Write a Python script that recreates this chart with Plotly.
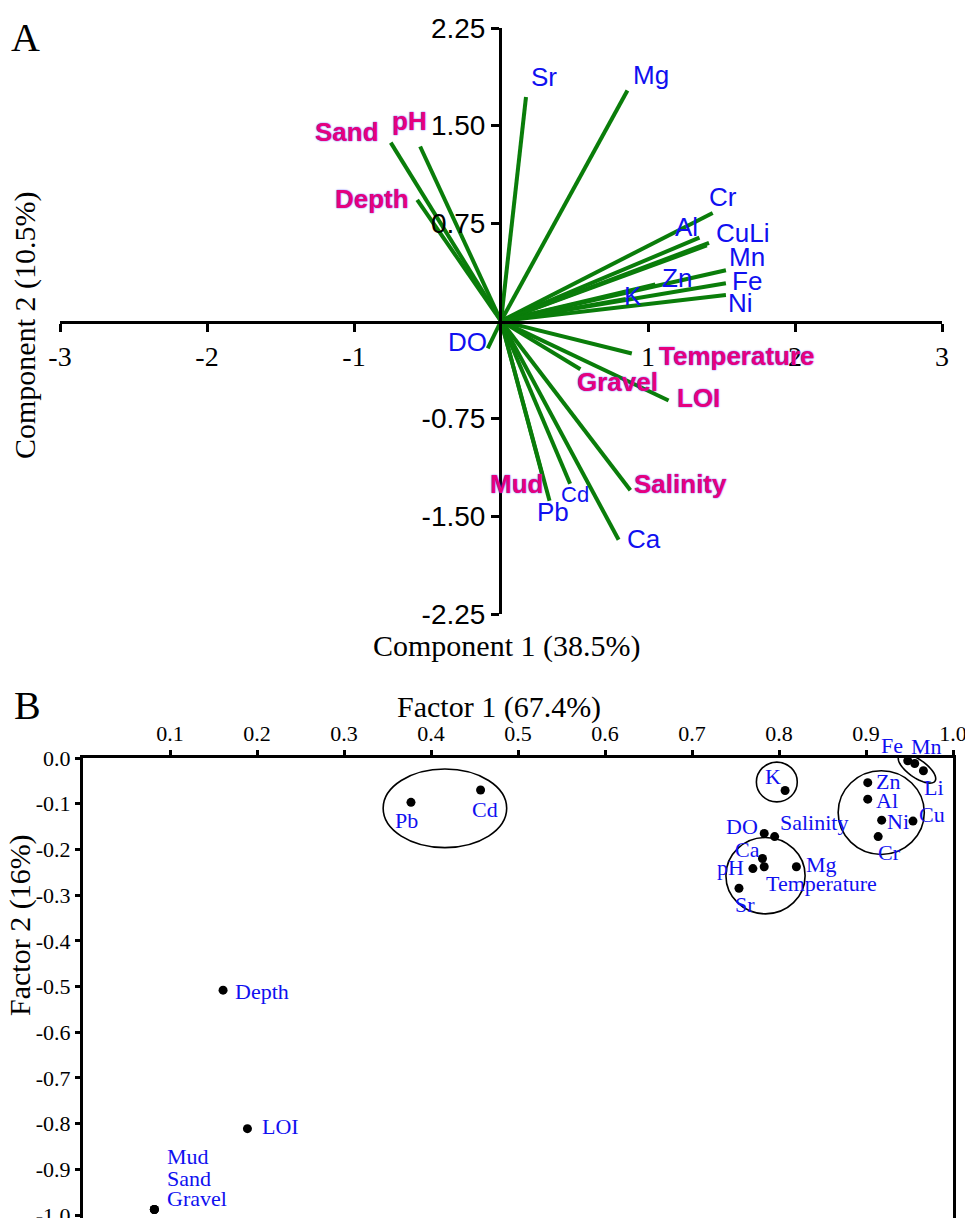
import numpy as np
import plotly.graph_objects as go

W, H = 965, 1218

# ---------------- Panel A data (PCA loadings) ----------------
pca_vars = ["Sand", "pH", "Depth", "Sr", "Mg", "Cr", "Al", "Cu", "Li", "Mn", "Fe", "Ni",
            "Zn", "K", "DO", "Temperature", "Gravel", "LOI", "Salinity", "Ca", "Cd", "Pb", "Mud"]
pc1 = [-0.75, -0.55, -0.57, 0.17, 0.86, 1.44, 1.35, 1.415, 1.40, 1.53, 1.53, 1.53,
       1.05, 0.85, -0.09, 0.89, 0.54, 1.14, 0.88, 0.80, 0.47, 0.33, 0.28]
pc2 = [1.37, 1.34, 0.93, 1.72, 1.77, 0.83, 0.64, 0.60, 0.58, 0.39, 0.29, 0.20,
       0.28, 0.17, -0.21, -0.25, -0.37, -0.61, -1.30, -1.68, -1.25, -1.38, -1.18]
pca_labels = {"Cu": "CuLi", "Li": ""}
env_vars = ["Sand", "pH", "Depth", "Temperature", "Gravel", "LOI", "Salinity", "Mud"]

a_xticks = [-3, -2, -1, 1, 2, 3]
a_yticks = [2.25, 1.50, 0.75, -0.75, -1.50, -2.25]
a_yticktext = ["2.25", "1.50", "0.75", "-0.75", "-1.50", "-2.25"]

# ---------------- Panel B data (factor loadings) ----------------
fa_vars = ["Fe", "Mn", "Li", "K", "Zn", "Al", "Ni", "Cu", "Cr", "DO", "Salinity", "Ca",
           "Temperature", "pH", "Mg", "Sr", "Pb", "Cd", "Depth", "LOI", "Mud", "Sand", "Gravel"]
f1 = [0.948, 0.956, 0.966, 0.807, 0.902, 0.902, 0.918, 0.954, 0.914, 0.783, 0.795, 0.781,
      0.783, 0.770, 0.820, 0.754, 0.377, 0.457, 0.161, 0.189, 0.082, 0.082, 0.082]
f2 = [-0.006, -0.012, -0.028, -0.071, -0.054, -0.090, -0.136, -0.138, -0.172, -0.165, -0.172, -0.220,
      -0.238, -0.242, -0.238, -0.285, -0.097, -0.070, -0.508, -0.811, -0.988, -0.988, -0.988]
b_xticks = [0.1, 0.2, 0.3, 0.4, 0.5, 0.6, 0.7, 0.8, 0.9, 1.0]
b_yticks = [0.0, -0.1, -0.2, -0.3, -0.4, -0.5, -0.6, -0.7, -0.8, -0.9, -1.0]

# cluster outlines (x0, x1, y0, y1) in factor units
clusters = [(0.345, 0.487, -0.196, -0.024),
            (0.774, 0.821, -0.096, -0.009),
            (0.739, 0.830, -0.341, -0.174),
            (0.868, 0.967, -0.211, -0.028)]
# tilted ellipse: center (f1, f2), semi-axes in px, angle deg
tilted = (0.9586, -0.023, 22, 9, -35)

# ---------------- label offsets (px: dx right, dy up) ----------------
a_shift = {"Sand": (-44, 11), "pH": (-11, 25), "Depth": (-45, 1), "Sr": (18, 20), "Mg": (24, 16),
           "Cr": (10, 16), "Al": (-13, 11), "Cu": (33, 10), "Li": (0, 0), "Mn": (21, 13), "Fe": (21, 2),
           "Ni": (15, -8), "Zn": (22, 7), "K": (7, 3), "DO": (-20, 6), "Temperature": (105, -2),
           "Gravel": (37, -13), "LOI": (30, 2), "Salinity": (50, 6), "Ca": (25, 1), "Cd": (5, -11),
           "Pb": (3, -11), "Mud": (-26, -9)}
b_shift = {"Fe": (-16, 15), "Mn": (12, 17), "Li": (11, -17), "K": (-12, 14), "Zn": (20, 1),
           "Al": (19, -1), "Ni": (16, -1), "Cu": (19, 7), "Cr": (11, -16), "DO": (-22, 7),
           "Salinity": (39, 14), "Ca": (-15, 9), "Temperature": (57, -17), "pH": (-22, 1),
           "Mg": (25, 2), "Sr": (6, -16), "Pb": (-4, -18), "Cd": (4, -20), "Depth": (39, -1),
           "LOI": (33, 2), "Mud": (34, 53), "Sand": (35, 31), "Gravel": (43, 11)}

SANS = "Liberation Sans, Arial, sans-serif"
SERIF = "Liberation Serif, Times New Roman, serif"
GREEN = "#0A7D0A"
BLUE = "#1010F0"
MAGENTA = "#E6007E"

# pixel layout
A_L, A_R, A_T, A_B = 60, 942, 28, 614
B_L, B_R, B_T, B_B = 83, 953, 758, 1218
B_YMIN = -1.0065

fig = go.Figure()

# Panel A vectors
vx, vy = [], []
for x, y in zip(pc1, pc2):
    vx += [0, x, None]
    vy += [0, y, None]
fig.add_trace(go.Scatter(x=vx, y=vy, mode="lines", line=dict(color=GREEN, width=4),
                         xaxis="x", yaxis="y", hoverinfo="skip", showlegend=False))

for name, x, y in zip(pca_vars, pc1, pc2):
    txt = pca_labels.get(name, name)
    if not txt:
        continue
    dx, dy = a_shift[name]
    if name in env_vars:
        font = dict(family=SANS, size=26, color=MAGENTA, weight="bold",
                    shadow="0px 0px 1.5px #3030ff")
    else:
        font = dict(family=SANS, size=22 if name == "Cd" else 26, color=BLUE)
    fig.add_annotation(x=x, y=y, xref="x", yref="y", text=txt, showarrow=False,
                       xshift=dx, yshift=dy, font=font, xanchor="center", yanchor="middle")

# Panel B points
fig.add_trace(go.Scatter(x=f1, y=f2, mode="markers", marker=dict(color="black", size=9),
                         xaxis="x2", yaxis="y2", hoverinfo="skip", showlegend=False))
for name, x, y in zip(fa_vars, f1, f2):
    dx, dy = b_shift[name]
    fig.add_annotation(x=x, y=y, xref="x2", yref="y2", text=name, showarrow=False,
                       xshift=dx, yshift=dy, font=dict(family=SERIF, size=22, color=BLUE),
                       xanchor="center", yanchor="middle")

for x0, x1, y0, y1 in clusters:
    fig.add_shape(type="circle", xref="x2", yref="y2", x0=x0, x1=x1, y0=y0, y1=y1,
                  line=dict(color="black", width=1.6))

# tilted ellipse path
sx = (B_R - B_L) / 1.0
sy = (B_B - B_T) / (0 - B_YMIN)
cx, cy, a, b, ang = tilted
t = np.linspace(0, 2 * np.pi, 60)
th = np.deg2rad(ang)
px = a * np.cos(t) * np.cos(th) - b * np.sin(t) * np.sin(th)
py = a * np.cos(t) * np.sin(th) + b * np.sin(t) * np.cos(th)
ex = cx + px / sx
ey = cy + py / sy
path = "M " + " L ".join(f"{u:.5f},{v:.5f}" for u, v in zip(ex, ey)) + " Z"
fig.add_shape(type="path", path=path, xref="x2", yref="y2", line=dict(color="black", width=1.6))

axis_common = dict(showgrid=False, zeroline=False, showline=True, linecolor="black",
                   linewidth=3, ticks="outside", tickcolor="black", tickwidth=3,
                   automargin=False, ticklabeloverflow="allow")

fig.update_layout(
    width=W, height=H, margin=dict(l=0, r=0, t=0, b=0, autoexpand=False),
    paper_bgcolor="white", plot_bgcolor="rgba(0,0,0,0)", showlegend=False,
    xaxis=dict(domain=[A_L / W, A_R / W], range=[-3, 3], anchor="free",
               position=1 - 322 / H, tickvals=a_xticks, ticktext=[str(v) for v in a_xticks],
               ticklen=8, tickfont=dict(family=SERIF, size=28, color="black"), **axis_common),
    yaxis=dict(domain=[1 - A_B / H, 1 - A_T / H], range=[-2.25, 2.25], anchor="free",
               position=500 / W, tickvals=a_yticks, ticktext=a_yticktext, ticklen=8,
               tickfont=dict(family=SANS, size=28, color="black"), **axis_common),
    xaxis2=dict(domain=[B_L / W, B_R / W], range=[0, 1], anchor="y2", side="top",
                tickvals=b_xticks, ticktext=[f"{v:.1f}" for v in b_xticks], ticklen=5,
                tickfont=dict(family=SERIF, size=22, color="black"), **axis_common),
    yaxis2=dict(domain=[0, 1 - B_T / H], range=[B_YMIN, 0], anchor="x2", mirror=True,
                tickvals=b_yticks, ticktext=["0.0"] + [f"-{abs(v):.1f}" for v in b_yticks[1:]],
                ticklen=5, tickfont=dict(family=SERIF, size=22, color="black"), **axis_common),
)

# titles and panel letters
def paper_text(text, px_x, px_y, size, family=SERIF, angle=0):
    fig.add_annotation(x=px_x / W, y=1 - px_y / H, xref="paper", yref="paper", text=text,
                       showarrow=False, textangle=angle, xanchor="center", yanchor="middle",
                       font=dict(family=family, size=size, color="black"))

paper_text("A", 25, 37, 40)
paper_text("B", 27, 705, 40)
paper_text("Component 1 (38.5%)", 507, 646, 30)
paper_text("Component 2 (10.5%)", 25, 326, 30, angle=-90)
paper_text("Factor 1 (67.4%)", 499, 707, 30)
paper_text("Factor 2 (16%)", 20, 925, 30, angle=-90)

fig.write_html("out.html", config={"displayModeBar": False},
               post_script="document.body.style.margin='0';document.body.style.overflow='hidden';")
